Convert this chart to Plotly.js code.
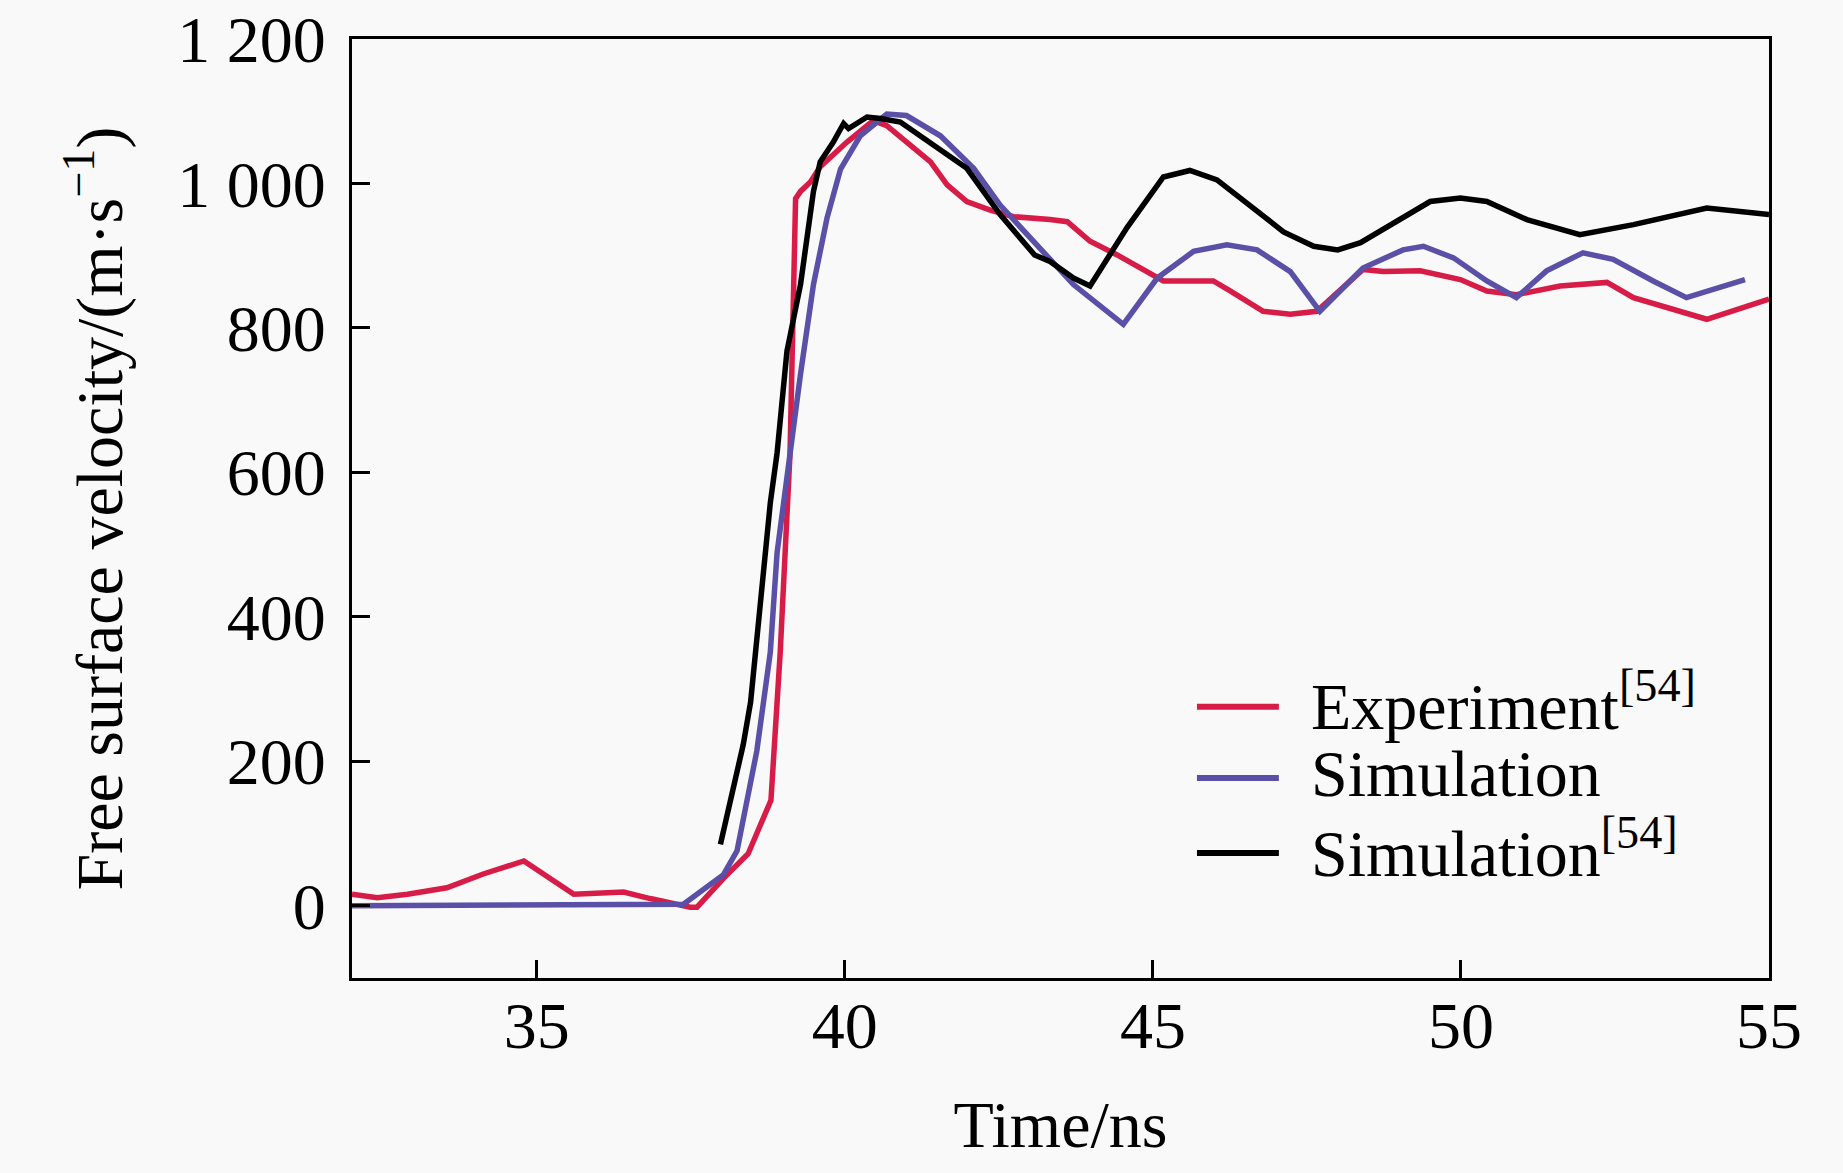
<!DOCTYPE html>
<html>
<head>
<meta charset="utf-8">
<script src="https://cdn.plot.ly/plotly-3.0.1.min.js"></script>
<style>
body{margin:0;background:#f9f9f9;}
#chart{width:1843px;height:1173px;}
</style>
</head>
<body>
<div id="chart"></div>
<script>
// Experiment[54]
var expT=[32,32.41,32.9,33.54,34.13,34.79,35.6,36.41,36.84,37.49,37.6,38.03,38.43,38.8,38.95,39.11,39.2,39.28,39.44,39.6,40.03,40.46,40.68,41.0,41.39,41.66,41.98,42.36,42.74,43.33,43.61,43.98,44.42,45.17,45.98,46.26,46.79,47.23,47.66,48.41,48.74,49.34,49.99,50.42,50.9,51.61,52.37,52.8,53.99,55];
var expV=[16,11,16,25,44,62,16,19,10,-2,-2,38,72,146,350,627,979,989,1002,1023,1057,1087,1080,1057,1030,998,975,963,954,950,947,920,901,865,865,851,823,819,823,881,878,879,867,851,846,858,863,842,812,840];
// Simulation (this work)
var simT=[32,37.38,38.03,38.25,38.57,38.79,38.9,39.11,39.28,39.49,39.71,39.93,40.25,40.68,41.0,41.55,42.09,42.52,43.33,43.71,44.52,45.07,45.66,46.2,46.69,47.23,47.71,48.41,49.06,49.39,49.88,50.42,50.9,51.39,51.98,52.47,53.12,53.66,54.61];
var simV=[0,2,43,76,214,351,489,627,736,860,952,1020,1066,1096,1094,1066,1021,970,897,860,805,869,906,915,908,878,823,883,908,913,897,865,842,879,904,895,865,842,867];
// Simulation[54]
var refT=[37.98,38.35,38.47,38.63,38.79,38.9,39.06,39.28,39.49,39.6,39.81,39.98,40.06,40.36,40.58,40.9,41.43,41.98,42.52,43.08,43.33,43.71,43.98,44.58,45.17,45.6,46.04,46.58,47.12,47.61,48.0,48.37,48.85,49.5,49.99,50.42,51.07,51.93,52.8,53.99,55];
var refV=[85,223,282,420,558,627,768,860,989,1030,1057,1083,1076,1092,1090,1085,1053,1021,957,901,892,869,858,939,1009,1018,1005,970,933,913,908,918,943,975,980,975,950,929,943,966,957];

var names=['Experiment<sup>[54]</sup>','Simulation','Simulation<sup>[54]</sup>'];
var colors=['#d81c48','#5a50a8','#000000'];

var FONT='"Liberation Serif", "Times New Roman", serif';
var LW=5.5;

var data=[
  {x:expT,y:expV,type:'scatter',mode:'lines',name:names[0],line:{color:colors[0],width:LW}},
  {x:simT,y:simV,type:'scatter',mode:'lines',name:names[1],line:{color:colors[1],width:LW}},
  {x:refT,y:refV,type:'scatter',mode:'lines',name:names[2],line:{color:colors[2],width:LW}}
];

// legend drawn by hand (tighter rows than plotly's own legend)
var legY=[0.289,0.213,0.133];
var shapes=[],annotations=[];
for(var i=0;i<names.length;i++){
  shapes.push({type:'line',xref:'paper',yref:'paper',x0:0.5963,x1:0.6541,y0:legY[i],y1:legY[i],
    line:{color:colors[i],width:6}});
  annotations.push({xref:'paper',yref:'paper',x:0.6755,y:legY[i]+0.005,xanchor:'left',yanchor:'middle',
    text:names[i],showarrow:false,font:{family:FONT,size:66,color:'#000'}});
}

var axisBase={
  showgrid:false,zeroline:false,
  showline:true,linecolor:'#000',linewidth:3,mirror:true,
  ticks:'inside',ticklen:18,tickwidth:3,tickcolor:'#000',
  ticklabeloverflow:'allow',
  tickfont:{family:FONT,size:66,color:'#000'}
};

var layout={
  width:1843,height:1173,
  margin:{l:352,r:74,t:39,b:195},
  paper_bgcolor:'#f9f9f9',plot_bgcolor:'#f9f9f9',
  font:{family:FONT,color:'#000'},
  separators:'. ',
  showlegend:false,
  xaxis:Object.assign({},axisBase,{
    range:[32,55],tick0:35,dtick:5,ticklabelstandoff:-12,
    title:{text:'Time/ns',font:{family:FONT,size:66,color:'#000'},standoff:40}
  }),
  yaxis:Object.assign({},axisBase,{
    range:[-100,1200],tick0:0,dtick:200,separatethousands:true,ticklabelstandoff:10,
    title:{text:'Free surface velocity/(m·s<sup>−1</sup>)',font:{family:FONT,size:66,color:'#000'},standoff:34}
  }),
  shapes:shapes,
  annotations:annotations
};

Plotly.newPlot('chart',data,layout,{displayModeBar:false,staticPlot:true});
</script>
</body>
</html>
